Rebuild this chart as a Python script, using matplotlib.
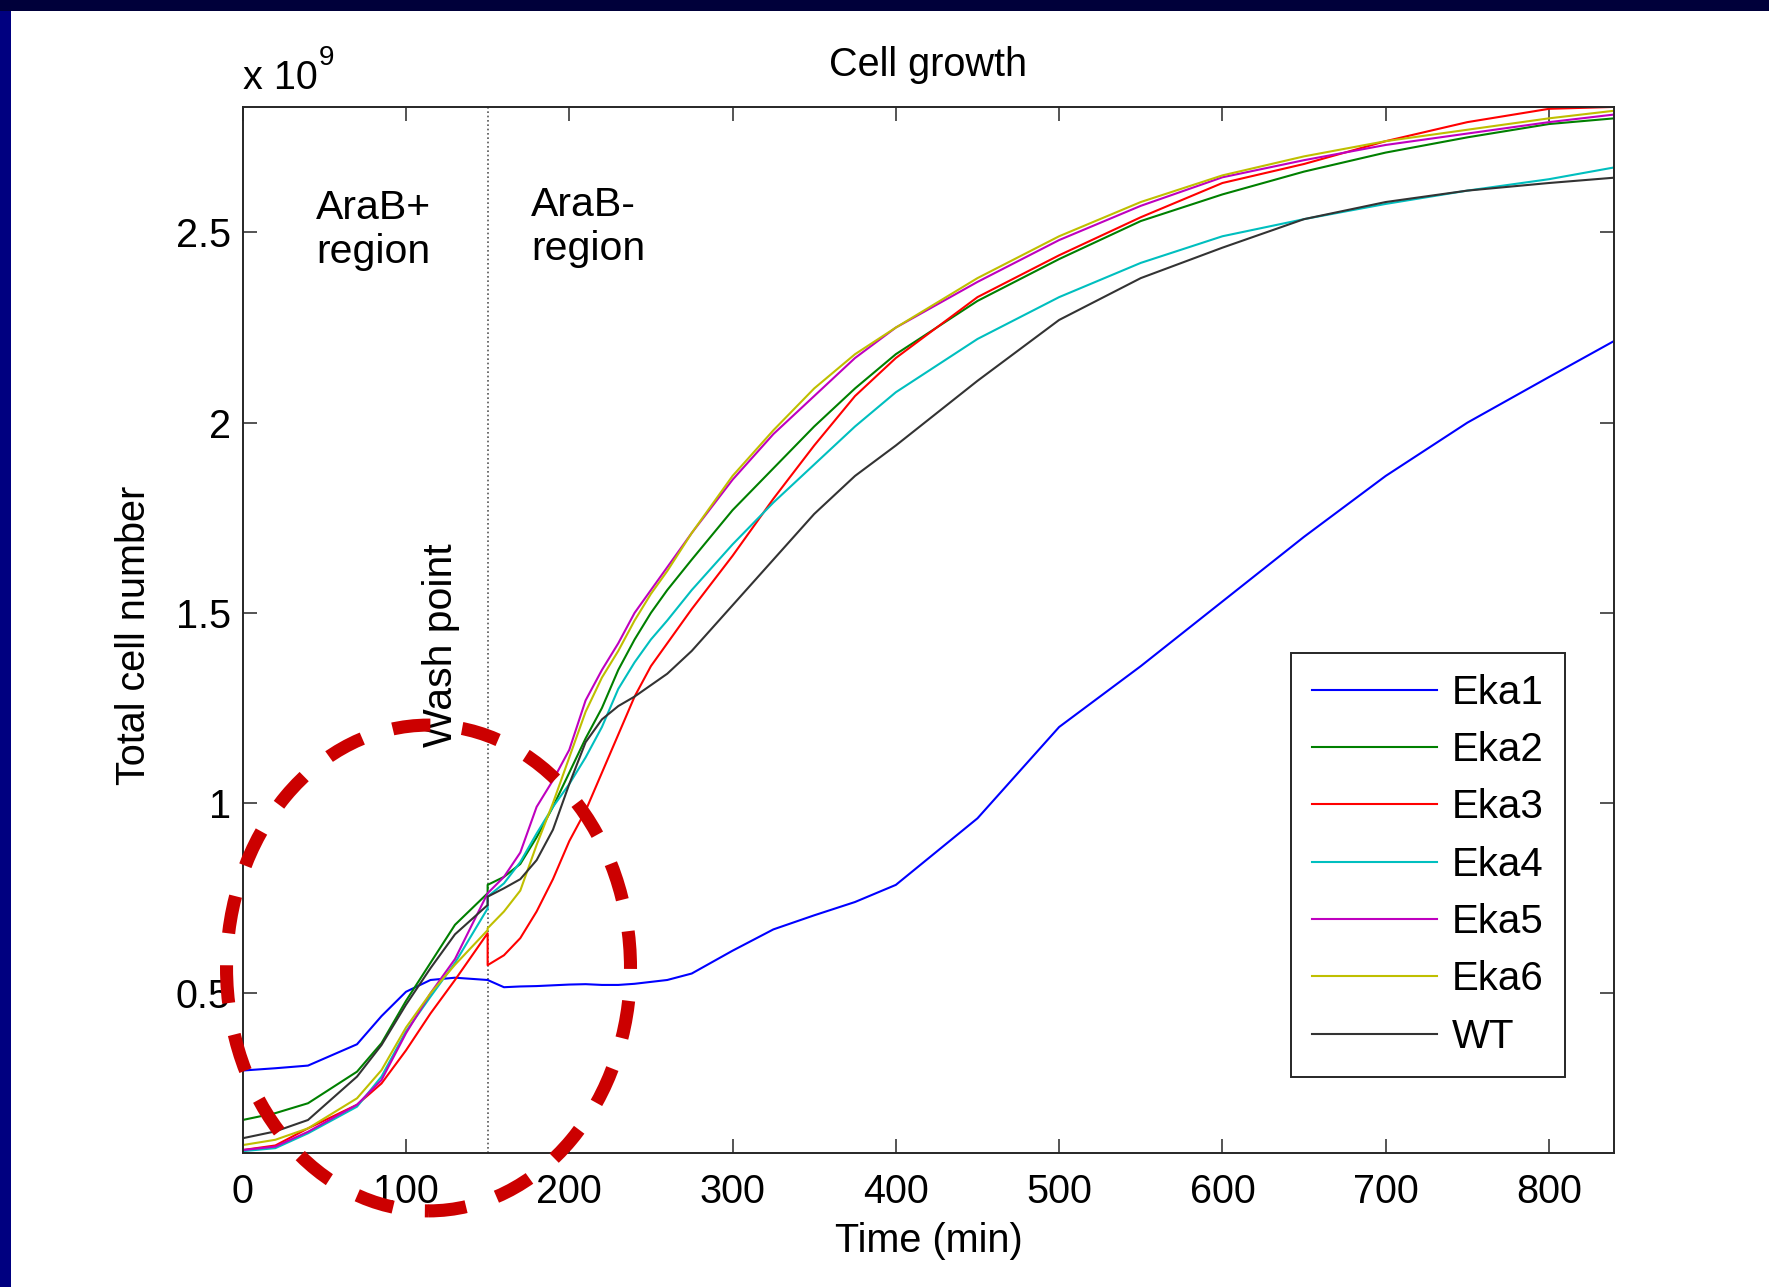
import matplotlib
matplotlib.use('Agg')
import matplotlib.pyplot as plt
from matplotlib.patches import Ellipse, Rectangle

plt.rcParams['font.family'] = ['Liberation Sans', 'DejaVu Sans']

# ---------------- data ----------------
# shared time grid (min); 150 appears twice: before / after the wash
time_min = [0, 20, 40, 70, 85, 100, 115, 130, 150, 150, 160, 170, 180, 190, 200,
            210, 220, 230, 240, 250, 260, 275, 300, 325, 350, 375, 400, 450, 500,
            550, 600, 650, 700, 750, 800, 840]

eka1 = [0.297, 0.303, 0.31, 0.366, 0.44, 0.504, 0.535, 0.541, 0.535, 0.535, 0.516, 0.518,
        0.519, 0.521, 0.523, 0.524, 0.522, 0.522, 0.525, 0.53, 0.535, 0.552, 0.612, 0.668,
        0.705, 0.74, 0.785, 0.96, 1.20, 1.36, 1.53, 1.70, 1.86, 2.00, 2.12, 2.215]
eka2 = [0.167, 0.185, 0.211, 0.294, 0.369, 0.48, 0.58, 0.68, 0.763, 0.785, 0.806, 0.84,
        0.91, 0.99, 1.08, 1.17, 1.25, 1.35, 1.43, 1.50, 1.56, 1.64, 1.77, 1.88, 1.99,
        2.09, 2.18, 2.32, 2.43, 2.53, 2.60, 2.66, 2.71, 2.75, 2.785, 2.80]
eka3 = [0.088, 0.10, 0.145, 0.207, 0.263, 0.35, 0.447, 0.535, 0.658, 0.574, 0.60, 0.645,
        0.715, 0.80, 0.90, 0.98, 1.08, 1.18, 1.28, 1.36, 1.42, 1.51, 1.65, 1.80, 1.94,
        2.07, 2.17, 2.33, 2.44, 2.54, 2.63, 2.68, 2.74, 2.79, 2.825, 2.83]
eka4 = [0.085, 0.093, 0.132, 0.202, 0.281, 0.40, 0.491, 0.58, 0.723, 0.754, 0.789, 0.845,
        0.92, 0.99, 1.05, 1.12, 1.20, 1.30, 1.37, 1.43, 1.48, 1.56, 1.68, 1.79, 1.89,
        1.99, 2.08, 2.22, 2.33, 2.42, 2.49, 2.535, 2.575, 2.61, 2.64, 2.671]
eka5 = [0.088, 0.097, 0.136, 0.207, 0.272, 0.395, 0.50, 0.59, 0.763, 0.763, 0.806, 0.87,
        0.99, 1.06, 1.14, 1.27, 1.35, 1.42, 1.50, 1.56, 1.62, 1.71, 1.85, 1.97, 2.07,
        2.17, 2.25, 2.37, 2.48, 2.57, 2.645, 2.69, 2.73, 2.76, 2.79, 2.81]
eka6 = [0.101, 0.115, 0.145, 0.224, 0.298, 0.41, 0.50, 0.575, 0.666, 0.671, 0.715, 0.77,
        0.89, 1.00, 1.12, 1.24, 1.33, 1.40, 1.48, 1.55, 1.61, 1.71, 1.86, 1.98, 2.09,
        2.18, 2.25, 2.38, 2.49, 2.58, 2.65, 2.70, 2.74, 2.77, 2.80, 2.82]
wt = [0.119, 0.137, 0.167, 0.281, 0.364, 0.47, 0.566, 0.655, 0.732, 0.754, 0.776, 0.80,
      0.85, 0.93, 1.05, 1.16, 1.22, 1.255, 1.28, 1.31, 1.34, 1.40, 1.52, 1.64, 1.76,
      1.86, 1.94, 2.11, 2.27, 2.38, 2.46, 2.535, 2.58, 2.61, 2.63, 2.644]

series_names = ['Eka1', 'Eka2', 'Eka3', 'Eka4', 'Eka5', 'Eka6', 'WT']
series_values = [eka1, eka2, eka3, eka4, eka5, eka6, wt]
series_colors = ['#0000ff', '#008000', '#ff0000', '#00bfbf', '#bf00bf', '#bfbf00', '#333333']

x_ticks = [0, 100, 200, 300, 400, 500, 600, 700, 800]
y_ticks = [0.5, 1.0, 1.5, 2.0, 2.5]
y_tick_labels = ['0.5', '1', '1.5', '2', '2.5']
wash_time = 150

# ---------------- figure ----------------
W, H = 1769, 1287
fig = plt.figure(figsize=(W / 100, H / 100), dpi=100)
fig.patch.set_facecolor('white')

# slide frame (dark bands at top and left)
fig.add_artist(Rectangle((0, 1 - 11 / H), 1, 11 / H, transform=fig.transFigure,
                         facecolor='#00003a', edgecolor='none', zorder=0))
fig.add_artist(Rectangle((0, 0), 11 / W, 1 - 11 / H, transform=fig.transFigure,
                         facecolor='#000080', edgecolor='none', zorder=0))

ax_l, ax_r, ax_t, ax_b = 242.7, 1614.3, 107.3, 1152.7
ax = fig.add_axes([ax_l / W, 1 - ax_b / H, (ax_r - ax_l) / W, (ax_b - ax_t) / H])

lines = []
for name, vals, col in zip(series_names, series_values, series_colors):
    ln, = ax.plot(time_min, vals, color=col, lw=1.5, label=name)
    lines.append(ln)

ax.axvline(wash_time, color='#555555', lw=1.2, ls=(0, (1, 1.6)), zorder=1)

ax.set_xlim(0, 840)
ax.set_ylim(0.081, 2.829)
ax.set_xticks(x_ticks)
ax.set_yticks(y_ticks, labels=y_tick_labels)
ax.tick_params(direction='in', length=10, width=1.1, top=True, right=True,
               labelsize=28.5, color='#262626')
ax.tick_params(axis='x', pad=14.5)
ax.tick_params(axis='y', pad=8.5)
for s in ax.spines.values():
    s.set_linewidth(1.4)
    s.set_color('#262626')

ax.set_xlabel('Time (min)', fontsize=28.5, va='baseline')
ax.xaxis.set_label_coords(0.5, -(1251.7 - ax_b) / (ax_b - ax_t))
ax.set_ylabel('Total cell number', fontsize=28.5, va='baseline')
ax.yaxis.set_label_coords((145 - ax_l) / (ax_r - ax_l), 0.4952)

ax.text(0.5, 1 + (ax_t - 76) / (ax_b - ax_t), 'Cell growth', transform=ax.transAxes,
        ha='center', va='baseline', fontsize=28.5)
ax.text(0.0, 1 + (ax_t - 89.3) / (ax_b - ax_t), 'x 10', transform=ax.transAxes,
        ha='left', va='baseline', fontsize=28.5)
ax.text((319 - ax_l) / (ax_r - ax_l), 1 + (ax_t - 65) / (ax_b - ax_t), '9',
        transform=ax.transAxes, ha='left', va='baseline', fontsize=20)

# region labels (anchored on the baseline of the second line)
ax.text(80.1, 2.4185, 'AraB+\nregion', ha='center', va='baseline', multialignment='center',
        fontsize=29.5)
ax.text(176.5, 2.427, 'AraB-\nregion', ha='left', va='baseline', multialignment='left',
        fontsize=29.5)
ax.text(128.2, 1.147, 'Wash point', rotation=90, rotation_mode='anchor',
        ha='left', va='baseline', fontsize=29.5)

leg = ax.legend(handles=lines, loc='upper left',
                bbox_to_anchor=(1290.7 / W, 1 - 652.7 / H), bbox_transform=fig.transFigure,
                borderaxespad=0, fontsize=29, handlelength=3.12, handletextpad=0.36,
                labelspacing=0.48, borderpad=0.52, fancybox=False, framealpha=1,
                edgecolor='#262626')
leg.get_frame().set_linewidth(1.4)

# red dashed highlight ellipse
ell = Ellipse((113.8, 0.5665), 247.4, 1.277, fill=False, edgecolor='#cc0000', lw=9.4,
              linestyle=(0, (2.9, 2.45)), clip_on=False, zorder=10)
ell.set_capstyle('butt')
ax.add_patch(ell)

fig.savefig('out.png', dpi=100, facecolor='white')
